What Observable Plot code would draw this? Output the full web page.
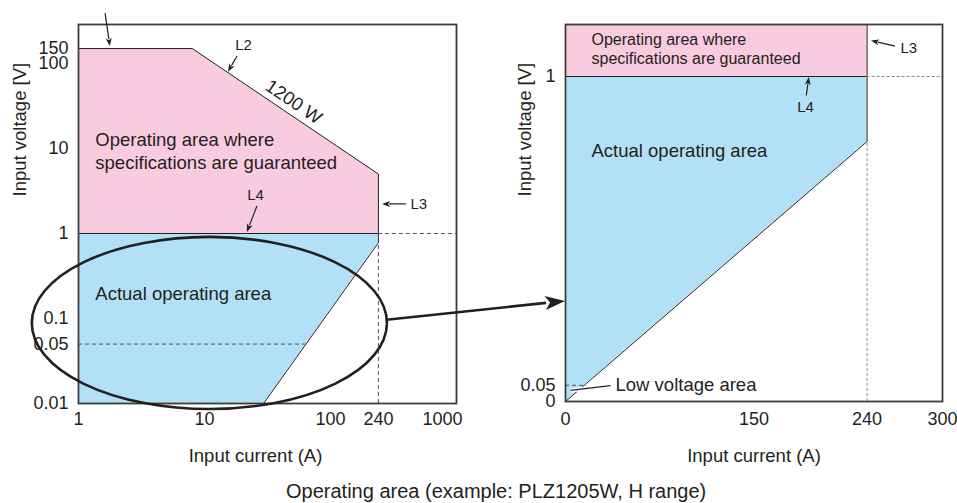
<!DOCTYPE html>
<html>
<head>
<meta charset="utf-8">
<script src="https://cdn.jsdelivr.net/npm/d3@7"></script>
<script src="https://cdn.jsdelivr.net/npm/@observablehq/plot@0.6"></script>
<style>
  html, body { margin: 0; padding: 0; background: #fff; }
  #wrap { position: relative; width: 957px; height: 503px; overflow: hidden; font-family: "Liberation Sans", Arial, Helvetica, sans-serif; color: #231f20; }
  #wrap svg { position: absolute; left: 0; top: 0; }
  #title { position: absolute; left: 286px; top: 479px; font-size: 20px; line-height: 24px; white-space: nowrap; }
</style>
</head>
<body>
<div id="wrap"><div id="title">Operating area (example: PLZ1205W, H range)</div></div>
<script>
// ---------- data: left panel (log–log) ----------
const leftXTicks = [1, 10, 100, 240];
const leftXTickLast = [1000];
const leftYTicks = [0.01, 0.05, 0.1, 1, 10, 100, 150];
const specCurrent = [1, 8, 240];          // L1 / L2 (1200 W) boundary
const specVoltage = [150, 150, 5];
const specFloorV = 1;                       // L4
const actualCurrent = [1, 29.4, 240];
const actualLowVoltage = [0.01, 0.01, 0.78];
const leftOutlineCurrent = [1, 8, 240, 240, 29.4];
const leftOutlineVoltage = [150, 150, 5, 0.78, 0.01];
const maxCurrent = 240;                     // L3
const lowVoltage = 0.05;
const lowVoltageEdgeLeft = 64;
const ellipseCurrent = [0.43, 283];
const ellipseVoltage = [0.0085, 0.9];

// ---------- data: right panel (linear) ----------
const rightXTicks = [0, 150, 240, 300];
const rightYTicks = [0, 0.05, 1];
const rightCurrent = [0, 240];
const rightLowVoltage = [0, 0.8];
const rightTopV = 1.16;
const lowVoltageEdgeRight = 15;

// annotation arrows (data units)
const leftArrows = [
  {x1: 1.64, y1: 387, x2: 1.79, y2: 158},
  {x1: 18.3, y1: 121, x2: 15.5, y2: 79},
  {x1: 26.3, y1: 2.08, x2: 21.9, y2: 1.03},
  {x1: 401, y1: 2.2, x2: 259, y2: 2.2}
];
const leftLabels = [
  {I: 20.4, V: 165, t: "L2", a: "middle", s: 15},
  {I: 25.4, V: 2.85, t: "L4", a: "middle", s: 15},
  {I: 431, V: 2.2, t: "L3", a: "start", s: 15},
  {I: 1.36, V: 12.4, t: "Operating area where", a: "start", s: 18.5},
  {I: 1.36, V: 6.66, t: "specifications are guaranteed", a: "start", s: 18.5},
  {I: 1.36, V: 0.195, t: "Actual operating area", a: "start", s: 18.5}
];
const powerLabel = [{I: 51, V: 23.5, t: "1200 W"}];
const rightArrows = [
  {x1: 262.6, y1: 1.092, x2: 243.5, y2: 1.109},
  {x1: 192, y1: 0.94, x2: 194, y2: 0.997}
];
const rightLabels = [
  {I: 266.6, V: 1.086, t: "L3", a: "start", s: 15},
  {I: 191, V: 0.905, t: "L4", a: "middle", s: 15},
  {I: 20.7, V: 1.114, t: "Operating area where", a: "start", s: 16},
  {I: 20.7, V: 1.055, t: "specifications are guaranteed", a: "start", s: 16},
  {I: 20.7, V: 0.769, t: "Actual operating area", a: "start", s: 18.5},
  {I: 39.8, V: 0.052, t: "Low voltage area", a: "start", s: 18.5}
];
const lowLeader = [{x1: 4, y1: 0.034, x2: 35.8, y2: 0.049}];
const zoomArrow = [{x1: -142, y1: 0.25, x2: 0, y2: 0.308}];

// ---------- styling ----------
const FONT = '"Liberation Sans", Arial, Helvetica, sans-serif';
const INK = "#231f20";
const PINK = "#f8cbdf";
const BLUE = "#b2e1f7";
const FRAME = "#3d3d3d";
const NS = "http://www.w3.org/2000/svg";

function ellipseMark(I, V, width) {
  return (index, {x, y}) => {
    const x0 = x(I[0]), x1 = x(I[1]), y0 = y(V[0]), y1 = y(V[1]);
    const e = document.createElementNS(NS, "ellipse");
    e.setAttribute("cx", (x0 + x1) / 2);
    e.setAttribute("cy", (y0 + y1) / 2);
    e.setAttribute("rx", Math.abs(x1 - x0) / 2);
    e.setAttribute("ry", Math.abs(y1 - y0) / 2);
    e.setAttribute("fill", "none");
    e.setAttribute("stroke", INK);
    e.setAttribute("stroke-width", width);
    return e;
  };
}
function arrowMark(list, width, head, half) {
  return (index, {x, y}) => {
    const g = document.createElementNS(NS, "g");
    for (const a of list) {
      const X1 = x(a.x1), Y1 = y(a.y1), X2 = x(a.x2), Y2 = y(a.y2);
      const L = Math.hypot(X2 - X1, Y2 - Y1), ux = (X2 - X1) / L, uy = (Y2 - Y1) / L;
      const bx = X2 - ux * head, by = Y2 - uy * head;
      const line = document.createElementNS(NS, "path");
      line.setAttribute("d", `M${X1},${Y1}L${bx + ux},${by + uy}`);
      line.setAttribute("stroke", INK);
      line.setAttribute("stroke-width", width);
      line.setAttribute("fill", "none");
      g.appendChild(line);
      const tip = document.createElementNS(NS, "path");
      tip.setAttribute("d", `M${X2},${Y2}L${bx - uy * half},${by + ux * half}L${bx + ux * head * 0.25},${by + uy * head * 0.25}L${bx + uy * half},${by - ux * half}Z`);
      tip.setAttribute("fill", INK);
      g.appendChild(tip);
    }
    return g;
  };
}
const isStart = d => d.a === "start";
const isMiddle = d => d.a === "middle";

const baseStyle = {fontFamily: FONT, fontSize: "18px", color: INK, background: "transparent", overflow: "visible"};

// ---------- left panel ----------
const specArea = specCurrent.map((I, i) => ({I, lo: specFloorV, hi: specVoltage[i]}));
const actualArea = actualCurrent.map((I, i) => ({I, lo: actualLowVoltage[i], hi: specFloorV}));
const leftOutline = leftOutlineCurrent.map((I, i) => ({I, V: leftOutlineVoltage[i]}));

const left = Plot.plot({
  width: 957, height: 480,
  marginLeft: 78, marginRight: 501, marginTop: 24, marginBottom: 77,
  style: baseStyle,
  x: {type: "log", domain: [1, 1000], ticks: leftXTicks, tickFormat: d => String(d), tickSize: 0, tickPadding: 9, label: null},
  y: {type: "log", domain: [0.01, 287.7], ticks: leftYTicks.filter(d => d !== lowVoltage), tickFormat: d => String(d), tickSize: 0, tickPadding: 10, label: null},
  marks: [
    Plot.areaY(specArea, {x: "I", y1: "lo", y2: "hi", fill: PINK}),
    Plot.areaY(actualArea, {x: "I", y1: "lo", y2: "hi", fill: BLUE}),
    Plot.line(leftOutline, {x: "I", y: "V", stroke: INK, strokeWidth: 1}),
    Plot.ruleY([specFloorV], {x1: actualCurrent[0], x2: maxCurrent, stroke: INK, strokeWidth: 1}),
    Plot.ruleY([specFloorV], {x1: maxCurrent, x2: leftXTickLast[0], stroke: "#555", strokeWidth: 1, strokeDasharray: "4,3"}),
    Plot.ruleX([maxCurrent], {y1: 0.01, y2: 0.78, stroke: "#555", strokeWidth: 1, strokeDasharray: "4,3"}),
    Plot.ruleY([lowVoltage], {x1: 1, x2: lowVoltageEdgeLeft, stroke: "#555", strokeWidth: 1, strokeDasharray: "4,3"}),
    Plot.frame({stroke: FRAME, strokeWidth: 1.8}),
    Plot.text(leftXTickLast, {x: d => d, frameAnchor: "bottom", lineAnchor: "top", dy: 9, dx: -14, fontSize: 18, fill: INK, text: d => String(d)}),
    Plot.text(leftYTicks.filter(d => d === lowVoltage), {y: d => d, frameAnchor: "left", textAnchor: "end", dx: -10, fontSize: 18, fill: INK, text: d => String(d)}),
    Plot.text(leftLabels, {filter: isStart, x: "I", y: "V", text: "t", textAnchor: "start", fontSize: "s", fill: INK}),
    Plot.text(leftLabels, {filter: isMiddle, x: "I", y: "V", text: "t", textAnchor: "middle", fontSize: "s", fill: INK}),
    Plot.text(powerLabel, {x: "I", y: "V", text: "t", rotate: 34, dy: -15, fontSize: 18.5, fill: INK}),
    arrowMark(leftArrows, 1.2, 8, 3),
    ellipseMark(ellipseCurrent, ellipseVoltage, 2.6),
    Plot.text(["Input current (A)"], {frameAnchor: "bottom", dy: 58, dx: -12, fontSize: 18.5, fill: INK}),
    Plot.text(["Input voltage [V]"], {frameAnchor: "left", dx: -58, dy: -17.5, rotate: -90, fontSize: 18.5, fill: INK})
  ]
});

// ---------- right panel ----------
const rightSpec = rightCurrent.map(I => ({I, lo: specFloorV, hi: rightTopV}));
const rightActual = rightCurrent.map((I, i) => ({I, lo: rightLowVoltage[i], hi: specFloorV}));
const rightOutline = [
  {I: rightCurrent[0], V: rightLowVoltage[0]},
  {I: rightCurrent[1], V: rightLowVoltage[1]},
  {I: rightCurrent[1], V: rightTopV}
];

const right = Plot.plot({
  width: 957, height: 480,
  marginLeft: 565, marginRight: 15, marginTop: 24, marginBottom: 79,
  style: baseStyle,
  x: {domain: [0, 300], ticks: rightXTicks, tickFormat: d => String(d), tickSize: 0, tickPadding: 11, label: null},
  y: {domain: [0, rightTopV], ticks: rightYTicks, tickFormat: d => String(d), tickSize: 0, tickPadding: 10, label: null},
  marks: [
    Plot.areaY(rightSpec, {x: "I", y1: "lo", y2: "hi", fill: PINK}),
    Plot.areaY(rightActual, {x: "I", y1: "lo", y2: "hi", fill: BLUE}),
    Plot.line(rightOutline, {x: "I", y: "V", stroke: INK, strokeWidth: 1}),
    Plot.ruleY([specFloorV], {x1: 0, x2: maxCurrent, stroke: INK, strokeWidth: 1}),
    Plot.ruleY([specFloorV], {x1: maxCurrent, x2: 300, stroke: "#8a8a8a", strokeWidth: 1, strokeDasharray: "3,2"}),
    Plot.ruleX([maxCurrent], {y1: 0, y2: rightLowVoltage[1], stroke: "#8a8a8a", strokeWidth: 1, strokeDasharray: "3,2"}),
    Plot.ruleY([lowVoltage], {x1: 0, x2: lowVoltageEdgeRight, stroke: "#555", strokeWidth: 1, strokeDasharray: "4,3"}),
    Plot.frame({stroke: FRAME, strokeWidth: 1.8}),
    Plot.link(lowLeader, {x1: "x1", y1: "y1", x2: "x2", y2: "y2", stroke: "white", strokeWidth: 4}),
    Plot.link(lowLeader, {x1: "x1", y1: "y1", x2: "x2", y2: "y2", stroke: INK, strokeWidth: 1.3}),
    Plot.text(rightLabels, {filter: isStart, x: "I", y: "V", text: "t", textAnchor: "start", fontSize: "s", fill: INK}),
    Plot.text(rightLabels, {filter: isMiddle, x: "I", y: "V", text: "t", textAnchor: "middle", fontSize: "s", fill: INK}),
    arrowMark(rightArrows, 1.2, 8, 3),
    arrowMark(zoomArrow, 2.6, 20, 7),
    Plot.text(["Input current (A)"], {frameAnchor: "bottom", dy: 60, fontSize: 18.5, fill: INK}),
    Plot.text(["Input voltage [V]"], {frameAnchor: "left", dx: -40, dy: -16.5, rotate: -90, fontSize: 18.5, fill: INK})
  ]
});

const wrap = document.getElementById("wrap");
wrap.appendChild(left);
wrap.appendChild(right);
</script>
</body>
</html>
